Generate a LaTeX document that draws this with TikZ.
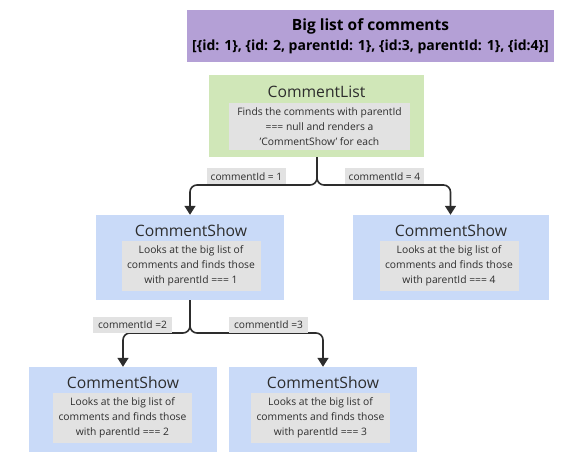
\documentclass[tikz,border=0pt]{standalone}
\usepackage{fontspec}
\setmainfont{Open Sans}
\usetikzlibrary{arrows.meta,positioning}
\definecolor{listpurple}{RGB}{180,160,214}
\definecolor{listgreen}{RGB}{208,231,184}
\definecolor{showblue}{RGB}{201,218,248}
\definecolor{notegray}{RGB}{226,226,226}
\definecolor{inkgray}{RGB}{45,45,45}

\begin{document}
\begin{tikzpicture}[x=1pt, y=-1pt,
    every node/.style = {shape=rectangle, inner sep=0pt, align=center, text=inkgray},
    compbox/.style = {fill=showblue, minimum width=188pt, minimum height=85pt},
    comptitle/.style = {font=\fontsize{15.7}{18}\selectfont},
    compnote/.style = {fill=notegray, minimum width=139pt, minimum height=50pt,
      font=\fontsize{10.3}{15}\selectfont},
    idlabel/.style = {fill=notegray, minimum width=79pt, minimum height=16pt,
      font=\fontsize{10.2}{12}\selectfont},
    conn/.style = {line width=1.6pt, draw=inkgray, rounded corners=7pt,
      -{Triangle[length=9pt,width=11pt]}}]
  \useasboundingbox (0,0) rectangle (582,457);

  % the list everything reads from
  \node [fill=listpurple, minimum width=367pt, minimum height=52pt, text=black,
    font=\fontsize{14}{20}\selectfont\bfseries] (biglist) at (370.5,36)
    {{\fontsize{15.5}{20}\selectfont Big list of comments}\\
     {[}\{id: 1\}, \{id: 2, parentId: 1\}, \{id:3, parentId: 1\}, \{id:4\}]};

  % top level
  \node [fill=listgreen, minimum width=215pt, minimum height=82pt] (clist) at (316.5,116) {};
  \node [comptitle] (clistt) at (316.5,92) {CommentList};
  \node [compnote, minimum width=181pt, minimum height=47pt] (clistn) at (319.5,126.5)
    {Finds the comments with parentId\\ === null and renders a\\ 'CommentShow' for each};

  % first level of CommentShow
  \node [compbox] (show1) at (190,257.5) {};
  \node [comptitle] (show1t) at (191,231) {CommentShow};
  \node [compnote] (show1n) at (191,266)
    {Looks at the big list of\\ comments and finds those\\ with parentId === 1};

  \node [compbox, minimum width=196pt] (show4) at (450.5,257.5) {};
  \node [comptitle] (show4t) at (451,231) {CommentShow};
  \node [compnote] (show4n) at (449,266)
    {Looks at the big list of\\ comments and finds those\\ with parentId === 4};

  % second level
  \node [compbox] (show2) at (123,409.5) {};
  \node [comptitle] (show2t) at (123,383) {CommentShow};
  \node [compnote] (show2n) at (122.5,418)
    {Looks at the big list of\\ comments and finds those\\ with parentId === 2};

  \node [compbox] (show3) at (323,409.5) {};
  \node [comptitle] (show3t) at (323,383) {CommentShow};
  \node [compnote] (show3n) at (320.5,418)
    {Looks at the big list of\\ comments and finds those\\ with parentId === 3};

  % connectors
  \coordinate (fork1) at (317,185);
  \coordinate (fork2) at (190,333);
  \draw [conn] (clist.south -| fork1) -- (fork1) -| (show1.north);
  \draw [conn] (clist.south -| fork1) -- (fork1) -| (show4.north);
  \draw [conn] (show1.south) -- (fork2) -| (show2.north);
  \draw [conn] (show1.south) -- (fork2) -| (show3.north);

  \node [idlabel] (lab1) at (246.5,176.5) {commentId = 1};
  \node [idlabel] (lab4) at (384.5,176.5) {commentId = 4};
  \node [idlabel] (lab2) at (132.5,325) {commentId =2};
  \node [idlabel] (lab3) at (268.5,325) {commentId =3};
\end{tikzpicture}
\end{document}
